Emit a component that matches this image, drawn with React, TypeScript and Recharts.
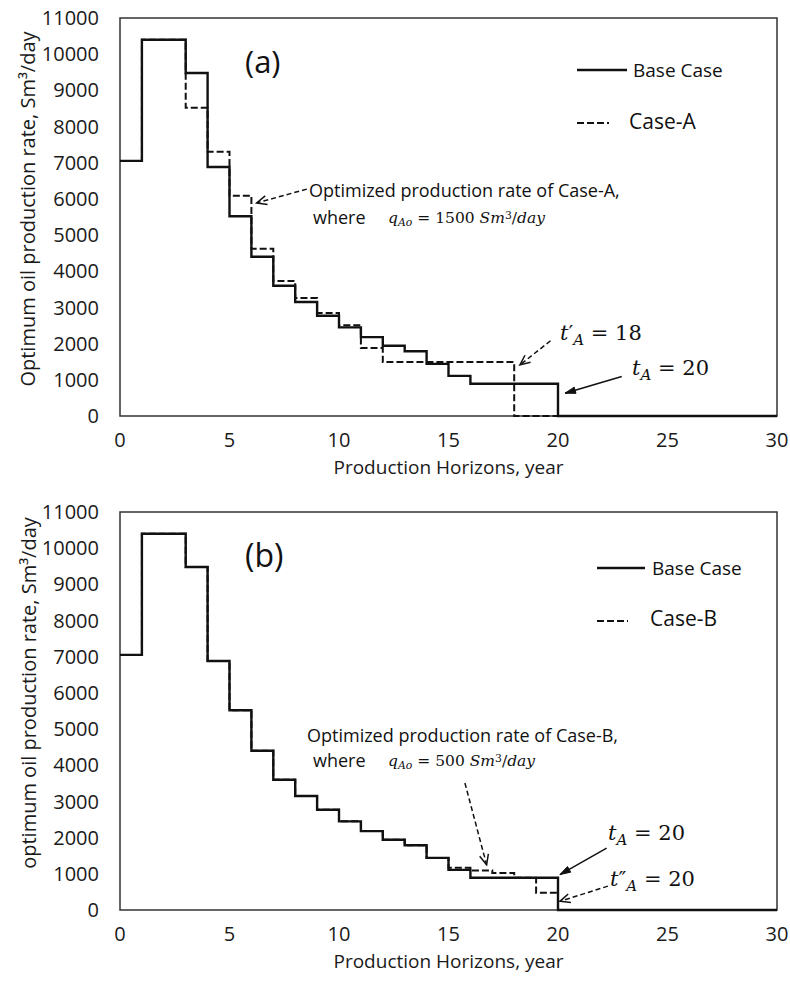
import React from "react";
import { LineChart, Line, XAxis, YAxis, ReferenceArea, ReferenceLine } from "recharts";

// rate held during [year, year + 1)
const years = [0, 1, 2, 3, 4, 5, 6, 7, 8, 9, 10, 11, 12, 13, 14, 15, 16, 17, 18, 19, 20, 21, 22, 23, 24, 25, 26, 27, 28, 29, 30];
const baseCase = [7050, 10400, 10400, 9480, 6880, 5520, 4400, 3600, 3150, 2770, 2450, 2180, 1940, 1790, 1440, 1110, 890, 890, 890, 890, 0, 0, 0, 0, 0, 0, 0, 0, 0, 0, 0];
const caseA = [7050, 10400, 10400, 8520, 7300, 6090, 4620, 3730, 3260, 2850, 2510, 1880, 1490, 1490, 1490, 1490, 1490, 1490, 0, 0, 0, 0, 0, 0, 0, 0, 0, 0, 0, 0, 0];
const caseB = [7050, 10400, 10400, 9480, 6880, 5520, 4400, 3600, 3150, 2770, 2450, 2180, 1940, 1790, 1440, 1170, 1090, 1020, 890, 480, 0, 0, 0, 0, 0, 0, 0, 0, 0, 0, 0];

const xTicks = [0, 5, 10, 15, 20, 25, 30];
const yTicks = [0, 1000, 2000, 3000, 4000, 5000, 6000, 7000, 8000, 9000, 10000, 11000];

const rowsA = years.map((year, i) => ({ year, base: baseCase[i], alt: caseA[i] }));
const rowsB = years.map((year, i) => ({ year, base: baseCase[i], alt: caseB[i] }));

type Arrow = { from: [number, number]; to: [number, number]; dashed?: boolean };

const arrowsA: Arrow[] = [
  { from: [8.53, 6270], to: [6.24, 5890], dashed: true },
  { from: [19.66, 2080], to: [18.26, 1410], dashed: true },
  { from: [22.91, 1090], to: [20.32, 630] },
];
const arrowsB: Arrow[] = [
  { from: [15.75, 3510], to: [16.74, 1250], dashed: true },
  { from: [22.22, 1710], to: [20.09, 980] },
  { from: [22.28, 660], to: [20.09, 240], dashed: true },
];

const ink = "#111";

function arrowShape(dashed: boolean) {
  return (props: any) => {
    const { x1, y1, x2, y2 } = props;
    const a = Math.atan2(y2 - y1, x2 - x1);
    const len = 11;
    const s = dashed ? 0.42 : 0.3;
    const p1 = `${x2 - len * Math.cos(a - s)},${y2 - len * Math.sin(a - s)}`;
    const p2 = `${x2 - len * Math.cos(a + s)},${y2 - len * Math.sin(a + s)}`;
    return (
      <g>
        <line x1={x1} y1={y1} x2={x2} y2={y2} stroke={ink} strokeWidth={1.5} strokeDasharray={dashed ? "5 3" : undefined} />
        {dashed ? (
          <polyline points={`${p1} ${x2},${y2} ${p2}`} fill="none" stroke={ink} strokeWidth={1.5} />
        ) : (
          <polygon points={`${p1} ${x2},${y2} ${p2}`} fill={ink} stroke={ink} strokeWidth={1} />
        )}
      </g>
    );
  };
}

function Txt({ x, y, size, serif, children }: any) {
  return (
    <div
      style={{
        position: "absolute",
        left: x,
        top: y,
        transform: "translateY(-50%)",
        fontSize: size,
        lineHeight: 1,
        whiteSpace: "nowrap",
        color: ink,
        fontFamily: serif ? '"DejaVu Serif", serif' : '"Open Sans", sans-serif',
      }}
    >
      {children}
    </div>
  );
}

function Swatch({ x, y, w, dashed }: any) {
  return (
    <svg style={{ position: "absolute", left: x, top: y - 3 }} width={w} height={6}>
      <line x1={0} y1={3} x2={w} y2={3} stroke={ink} strokeWidth={dashed ? 2 : 2.4} strokeDasharray={dashed ? "7 3" : undefined} />
    </svg>
  );
}

function Panel({ rows, arrows, yTitle, yTitleCy, yTitleX, children }: any) {
  return (
    <div style={{ position: "relative", width: 790, height: 494 }}>
      <LineChart width={790} height={494} data={rows} margin={{ top: 18, right: 13, bottom: 0, left: 0 }}>
        <XAxis
          dataKey="year"
          type="number"
          domain={[0, 30]}
          ticks={xTicks}
          interval={0}
          height={78}
          tickLine={false}
          axisLine={false}
          tickSize={0}
          tickMargin={17}
          tick={{ fontSize: 20, fill: "#1a1a1a" }}
          label={(p: any) => (
            <text
              x={p.viewBox.x + p.viewBox.width / 2}
              y={p.viewBox.y + 51}
              textAnchor="middle"
              dominantBaseline="central"
              fontSize={19}
              fill="#1a1a1a"
            >
              Production Horizons, year
            </text>
          )}
        />
        <YAxis
          type="number"
          domain={[0, 11000]}
          ticks={yTicks}
          interval={0}
          width={120}
          tickLine={false}
          axisLine={false}
          tickSize={0}
          tickMargin={21}
          tick={{ fontSize: 20, fill: "#1a1a1a" }}
          label={() => (
            <text
              x={yTitleX}
              y={yTitleCy}
              transform={`rotate(-90 ${yTitleX} ${yTitleCy})`}
              textAnchor="middle"
              dominantBaseline="central"
              fontSize={20}
              fill="#1a1a1a"
            >
              {yTitle}
            </text>
          )}
        />
        <ReferenceArea x1={0} x2={30} y1={0} y2={11000} fill="none" stroke="#333" strokeWidth={1.5} fillOpacity={0} />
        <Line dataKey="alt" type="stepAfter" stroke={ink} strokeWidth={2} strokeDasharray="7 3" dot={false} isAnimationActive={false} />
        <Line dataKey="base" type="stepAfter" stroke={ink} strokeWidth={2.4} dot={false} isAnimationActive={false} />
        {arrows.map((a: Arrow, i: number) => (
          <ReferenceLine
            key={i}
            segment={[
              { x: a.from[0], y: a.from[1] },
              { x: a.to[0], y: a.to[1] },
            ]}
            shape={arrowShape(!!a.dashed)}
          />
        ))}
      </LineChart>
      {children}
    </div>
  );
}

const tSub = (mark: string) => (
  <span>
    <i>t</i>
    {mark}
    <i style={{ position: "relative", top: "0.3em", fontSize: "0.72em" }}>A</i>
  </span>
);

const qAo = (rate: string) => (
  <span>
    <i>q</i>
    <i style={{ position: "relative", top: "0.3em", fontSize: "0.7em" }}>Ao</i>
    {" = "}
    {rate} <i>Sm</i>
    <span style={{ position: "relative", top: "-0.4em", fontSize: "0.7em" }}>3</span>/<i>day</i>
  </span>
);

export default function App() {
  return (
    <div style={{ position: "absolute", left: 0, top: 0, width: 790, height: 990, background: "#fff", fontFamily: '"Open Sans", sans-serif' }}>
      <Panel rows={rowsA} arrows={arrowsA} yTitle="Optimum oil production rate, Sm³/day" yTitleCy={209} yTitleX={27}>
        <Txt x={245} y={61} size={31}>(a)</Txt>
        <Swatch x={577} y={70} w={50} />
        <Txt x={633} y={70} size={19}>Base Case</Txt>
        <Swatch x={577} y={123} w={32} dashed />
        <Txt x={629} y={121} size={21}>Case-A</Txt>
        <Txt x={309} y={190} size={18}>Optimized production rate of Case-A,</Txt>
        <Txt x={313} y={217} size={18}>where</Txt>
        <Txt x={388} y={219} size={15.5} serif>{qAo("1500")}</Txt>
        <Txt x={560} y={333} size={21} serif>{tSub("′")} = 18</Txt>
        <Txt x={632} y={368} size={21} serif>{tSub("")} = 20</Txt>
      </Panel>
      <Panel rows={rowsB} arrows={arrowsB} yTitle="optimum oil production rate,  Sm³/day" yTitleCy={199} yTitleX={28}>
        <Txt x={245} y={61} size={32}>(b)</Txt>
        <Swatch x={597} y={74} w={48} />
        <Txt x={652} y={74} size={19}>Base Case</Txt>
        <Swatch x={597} y={127} w={31} dashed />
        <Txt x={650} y={124} size={21}>Case-B</Txt>
        <Txt x={307} y={241} size={18}>Optimized production rate of Case-B,</Txt>
        <Txt x={313} y={266} size={18}>where</Txt>
        <Txt x={388} y={268} size={15.5} serif>{qAo("500")}</Txt>
        <Txt x={608} y={339} size={21} serif>{tSub("")} = 20</Txt>
        <Txt x={610} y={385} size={21} serif>{tSub("″")} = 20</Txt>
      </Panel>
    </div>
  );
}
